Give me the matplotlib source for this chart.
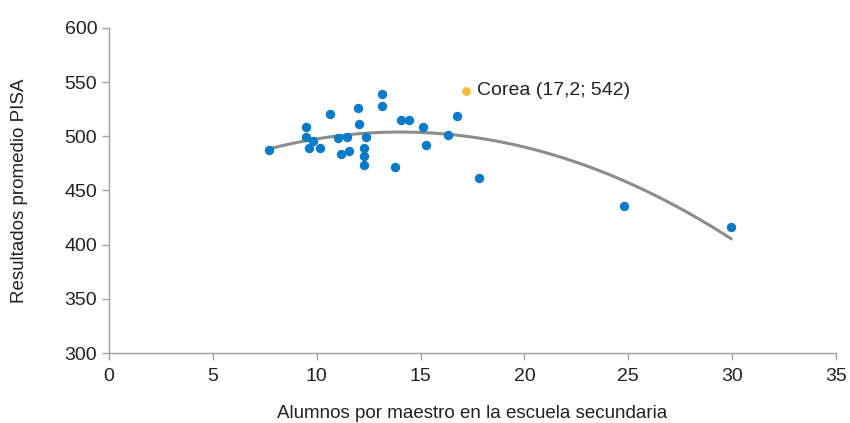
import numpy as np
import matplotlib
matplotlib.use("Agg")
import matplotlib.pyplot as plt
from matplotlib import font_manager

# --- data ---
alumnos = [7.72, 9.47, 9.47, 9.84, 9.63, 10.14, 10.64, 11.04, 11.47, 11.17, 11.57,
           11.97, 12.04, 12.37, 12.28, 12.28, 12.28, 13.13, 13.13, 13.76, 14.04,
           14.46, 15.13, 15.26, 16.34, 16.74, 17.83, 24.8, 29.95]
pisa = [487.4, 508.6, 499.7, 495.7, 488.9, 488.9, 520.3, 498.2, 499.1, 484.0, 486.5,
        525.9, 511.1, 499.1, 489.2, 481.8, 473.5, 539.4, 528.3, 472.0, 514.8,
        515.4, 508.3, 492.0, 501.2, 518.5, 461.8, 435.7, 416.3]
corea_x, corea_y = 17.2, 542
corea_label = "Corea (17,2; 542)"
x_ticks = [0, 5, 10, 15, 20, 25, 30, 35]
y_ticks = [300, 350, 400, 450, 500, 550, 600]

plt.rcParams['font.family'] = ['Liberation Sans', 'DejaVu Sans']

fig = plt.figure(figsize=(8.5, 4.23), dpi=100)
ax = fig.add_axes([109/850, 1-353/423, (836-109)/850, (353-28)/423])

# trend line (quadratic fit incl. Corea)
xs_all = np.array(alumnos + [corea_x])
ys_all = np.array(pisa + [corea_y])
coef = np.polyfit(xs_all, ys_all, 2)
xx = np.linspace(min(alumnos), max(alumnos), 200)
ax.plot(xx, np.polyval(coef, xx), color='#8c8c8c', lw=2.2, zorder=2)

ax.scatter(alumnos, pisa, s=46, color='#0a7bc8', zorder=3, linewidths=0)
ax.scatter([corea_x], [corea_y], s=40, color='#f9bc3c', zorder=3, linewidths=0)
ax.annotate(corea_label, (corea_x, corea_y), xytext=(8, 0), textcoords='offset points',
            va='center', ha='left', fontsize=14, color='#222222')

ax.set_xlim(0, 35)
ax.set_ylim(300, 600)
ax.set_xticks(x_ticks)
ax.set_yticks(y_ticks)
for s in ['top', 'right']:
    ax.spines[s].set_visible(False)
for s in ['left', 'bottom']:
    ax.spines[s].set_color('#a0a0a0')
    ax.spines[s].set_linewidth(1)
ax.tick_params(colors='#a0a0a0', length=5, width=1, labelsize=14, labelcolor='#222222')
ax.tick_params(axis='x', pad=6)
ax.set_xlabel("Alumnos por maestro en la escuela secundaria", fontsize=13.5, color='#222222', labelpad=14)
ax.set_ylabel("Resultados promedio PISA", fontsize=13.5, color='#222222', labelpad=26)

fig.savefig("out.png", dpi=100)
